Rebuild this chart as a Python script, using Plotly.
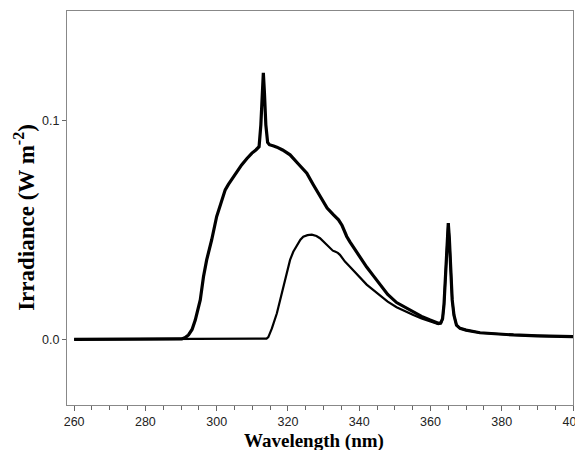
import plotly.graph_objects as go

# Upper (unfiltered) spectrum
wl_upper = [260, 270, 280, 288, 290.2, 291.2, 292.1, 293.1, 294.0, 295.4, 296.3, 297.2, 298.6,
            300.0, 301.4, 302.4, 303.3, 304.2, 305.6, 307.0, 308.5, 309.9, 311.0, 311.9, 312.4,
            312.8, 313.1, 313.4, 313.8, 314.3, 314.8, 316, 316.9, 318.5, 320.6, 323, 325.3, 327,
            329, 331, 332.8, 333.6, 334.2, 335.2, 336.5, 337.4, 339, 341.2, 342.1, 344, 346, 348,
            350.5, 353, 355.2, 357.5, 359.9, 361, 362.2, 362.9, 363.4, 363.8, 364.3, 364.7,
            365.0, 365.3, 365.7, 366.1, 366.6, 367.3, 368.3, 370, 373.9, 378, 383.3, 390, 395,
            400]
irr_upper = [0, 0, 0, 0, 0.0002, 0.0008, 0.0020, 0.0045, 0.0088, 0.018, 0.0286, 0.0363, 0.0454,
             0.0561, 0.0637, 0.0683, 0.0708, 0.0729, 0.0765, 0.0797, 0.0826, 0.0851, 0.0865,
             0.088, 0.098, 0.113, 0.1217, 0.113, 0.098, 0.090, 0.0889, 0.0883, 0.0878, 0.0865,
             0.0843, 0.080, 0.0759, 0.071, 0.0652, 0.060, 0.0569, 0.0555, 0.0546, 0.052, 0.047,
             0.0445, 0.0405, 0.035, 0.033, 0.029, 0.0245, 0.0205, 0.0168, 0.0145, 0.0126,
             0.0105, 0.0088, 0.0080, 0.0073, 0.0075, 0.0095, 0.016, 0.032, 0.047, 0.0531, 0.046,
             0.030, 0.018, 0.011, 0.0065, 0.0050, 0.0042, 0.0030, 0.0025, 0.0020, 0.0016,
             0.0014, 0.0012]

# Lower (filtered) spectrum
wl_lower = [260, 300, 313, 314, 314.5, 315.5, 316.9, 318.7, 320.6, 321.5, 322.5, 323.5, 324.3,
            325.5, 326.7, 328, 329, 330.5, 331.8, 332.6, 333.2, 334, 334.6, 336, 337.4, 339.5,
            341.2, 342.1, 344, 345.9, 348, 350.5, 353, 355.2, 357.5, 359.9, 361, 362.2, 362.9,
            363.4, 363.8, 364.3, 364.7, 365.0, 365.3, 365.7, 366.1, 366.6, 367.3, 368.3, 370,
            373.9, 378, 383.3, 390, 395, 400]
irr_lower = [0, 0, 0, 0.0003, 0.001, 0.005, 0.0119, 0.0241, 0.0363, 0.040, 0.0431, 0.0455,
             0.0469, 0.0476, 0.0478, 0.0472, 0.0462, 0.0440, 0.0420, 0.0405, 0.0401, 0.0395,
             0.0386, 0.0355, 0.0332, 0.0295, 0.0262, 0.0250, 0.0225, 0.0198, 0.0172, 0.0147,
             0.0127, 0.0111, 0.0095, 0.0081, 0.0075, 0.0070, 0.0072, 0.0092, 0.016, 0.032,
             0.047, 0.0531, 0.046, 0.030, 0.018, 0.011, 0.0065, 0.0050, 0.0042, 0.0030, 0.0025,
             0.0020, 0.0016, 0.0014, 0.0012]

x_ticks = [260, 280, 300, 320, 340, 360, 380, 400]
y_ticks = [0.0, 0.1]
y_tick_labels = ["0.0", "0.1"]

fig = go.Figure()
fig.add_trace(go.Scatter(x=wl_lower, y=irr_lower, mode="lines",
                         line=dict(color="black", width=2.2), showlegend=False))
fig.add_trace(go.Scatter(x=wl_upper, y=irr_upper, mode="lines",
                         line=dict(color="black", width=3.2), showlegend=False))

axis_font = dict(family="Liberation Sans, Arial", size=12.5, color="#222")
xtitle_font = dict(family="Liberation Serif, Times New Roman", size=19, color="black")
ytitle_font = dict(family="Liberation Serif, Times New Roman", size=23, color="black")

# The page body adds an 8px margin, so the figure is offset and margins shifted;
# the figure is a little wider than the visible window so the "400" label is not dropped.
fig.update_layout(
    width=580, height=442,
    margin=dict(l=59, r=15, t=3, b=45),
    paper_bgcolor="white", plot_bgcolor="white",
    xaxis=dict(
        range=[258, 400], tickvals=x_ticks, ticktext=[str(v) for v in x_ticks],
        ticks="outside", ticklen=5, tickcolor="#666", tickwidth=1,
        minor=dict(dtick=5, tick0=260, ticks="outside", ticklen=4, tickcolor="#666"),
        showline=True, linecolor="#888", linewidth=1, mirror=True,
        showgrid=False, zeroline=False, tickfont=axis_font, automargin=False,
    ),
    yaxis=dict(
        range=[-0.03, 0.15], tickvals=y_ticks, ticktext=y_tick_labels,
        ticks="outside", ticklen=4, tickcolor="#666", tickwidth=1,
        showline=True, linecolor="#888", linewidth=1, mirror=True,
        showgrid=False, zeroline=False, tickfont=axis_font, automargin=False,
    ),
    annotations=[
        dict(text="<b>Wavelength (nm)</b>", font=xtitle_font, showarrow=False,
             xref="paper", yref="paper", x=0.488, y=-0.091, xanchor="center", yanchor="middle"),
        dict(text="<b>Irradiance (W m<sup>-2</sup>)</b>", font=ytitle_font, showarrow=False,
             textangle=-90, xref="paper", yref="paper", x=-0.083, y=0.475,
             xanchor="center", yanchor="middle"),
    ],
)

fig.write_html("out.html")
